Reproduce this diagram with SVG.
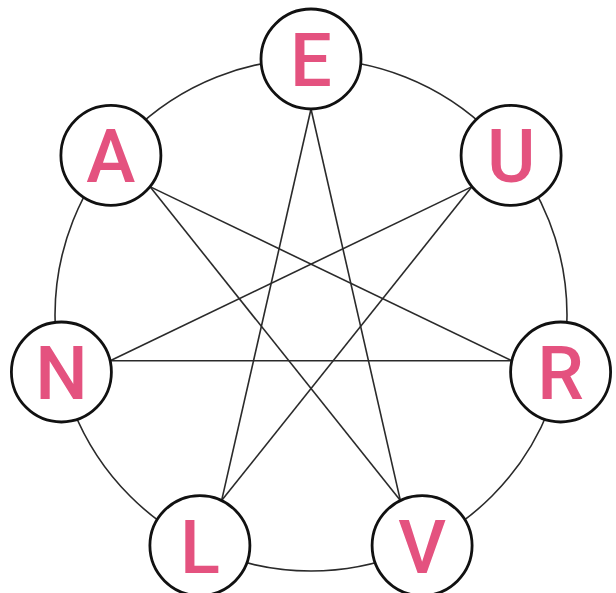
<svg xmlns="http://www.w3.org/2000/svg" width="616" height="593" viewBox="0 0 616 593">
<style>
.ring{fill:none;stroke:#2a2a2a;stroke-width:1.6}
.edge{stroke:#2a2a2a;stroke-width:1.6;fill:none}
.node circle{fill:#fff;stroke:#111;stroke-width:2.8}
.node text{font-family:Roboto,"Liberation Sans",sans-serif;font-weight:500;font-size:74px;fill:#E4527F;text-anchor:middle}
</style>
<rect width="616" height="593" fill="#fff"/>
<circle class="ring" cx="311" cy="315" r="256"/>
<g id="connectors">
<line class="edge" x1="311" y1="109" x2="221.6" y2="500.6"/>
<line class="edge" x1="311" y1="109" x2="400.4" y2="500.6"/>
<line class="edge" x1="149.9" y1="186.6" x2="511.8" y2="360.8"/>
<line class="edge" x1="149.9" y1="186.6" x2="400.4" y2="500.6"/>
<line class="edge" x1="472.1" y1="186.6" x2="110.2" y2="360.8"/>
<line class="edge" x1="472.1" y1="186.6" x2="221.6" y2="500.6"/>
<line class="edge" x1="110.2" y1="360.8" x2="511.8" y2="360.8"/>
</g>
<g id="node-E" class="node"><circle cx="311" cy="59" r="50"/><text x="311" y="86">E</text></g>
<g id="node-U" class="node"><circle cx="511.1" cy="155.4" r="50"/><text x="511.1" y="182.4">U</text></g>
<g id="node-R" class="node"><circle cx="560.6" cy="372" r="50"/><text x="560.6" y="399">R</text></g>
<g id="node-V" class="node"><circle cx="422.1" cy="545.6" r="50"/><text x="422.1" y="572.6">V</text></g>
<g id="node-L" class="node"><circle cx="199.9" cy="545.6" r="50"/><text x="199.9" y="572.6">L</text></g>
<g id="node-N" class="node"><circle cx="61.4" cy="372" r="50"/><text x="61.4" y="399">N</text></g>
<g id="node-A" class="node"><circle cx="110.9" cy="155.4" r="50"/><text x="110.9" y="182.4">A</text></g>
</svg>
